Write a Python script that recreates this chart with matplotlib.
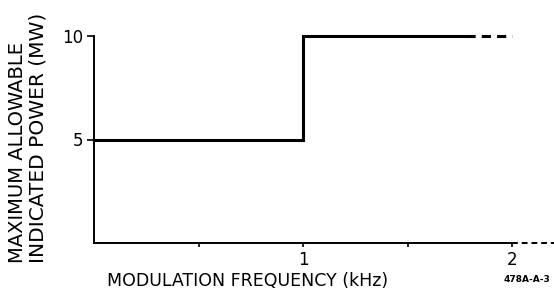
import matplotlib
matplotlib.use("Agg")
import matplotlib.pyplot as plt

plt.rcParams["font.family"] = ["DejaVu Sans"]

# === Données
freq_step = [0.0, 1.0, 1.0, 1.78]     # kHz
power_step = [5, 5, 10, 10]           # MW
freq_dash = [1.78, 2.0]
power_dash = [10, 10]
yticks = [5, 10]
xticks_major = [1, 2]
xticks_minor = [0.5, 1.5]

fig = plt.figure(figsize=(5.54, 2.93), dpi=100)
ax = fig.add_axes([94 / 554, 50 / 293, 460 / 554, 207 / 293])

ax.plot(freq_step, power_step, color="black", lw=2.2, solid_joinstyle="miter", clip_on=False)
ax.plot(freq_dash, power_dash, color="black", lw=2.2, ls=(0, (3, 2)), clip_on=False)

# axe horizontal : trait plein jusqu'à 2, puis pointillé
ax.plot([0, 2.0], [0, 0], color="black", lw=1.4, clip_on=False)
ax.plot([2.0, 2.2], [0, 0], color="black", lw=1.4, ls=(0, (3, 2)), clip_on=False)

ax.set_xlim(0, 2.2)
ax.set_ylim(0, 10)
for s in ["top", "right", "bottom"]:
    ax.spines[s].set_visible(False)
ax.spines["left"].set_linewidth(1.4)

ax.set_yticks(yticks)
ax.set_yticklabels([str(v) for v in yticks], fontsize=12)
ax.tick_params(axis="y", direction="out", length=5, width=1.2, pad=3)

ax.set_xticks(xticks_major)
ax.set_xticklabels([str(v) for v in xticks_major], fontsize=12)
ax.set_xticks(xticks_minor, minor=True)
ax.tick_params(axis="x", which="both", direction="out", length=3, width=1.2, pad=3)

fig.text(18 / 554, 1 - 263 / 293, "MAXIMUM ALLOWABLE", fontsize=14, rotation=90, va="bottom", ha="center")
fig.text(38 / 554, 1 - 263 / 293, "INDICATED POWER (MW)", fontsize=14.5, rotation=90, va="bottom", ha="center")
fig.text(107 / 554, 1 - 281 / 293, "MODULATION FREQUENCY (kHz)", fontsize=12.5, va="center", ha="left")
fig.text(527 / 554, 1 - 280 / 293, "478A-A-3", fontsize=6.5, fontweight="bold", va="center", ha="center")

fig.savefig("out.png", dpi=100)
